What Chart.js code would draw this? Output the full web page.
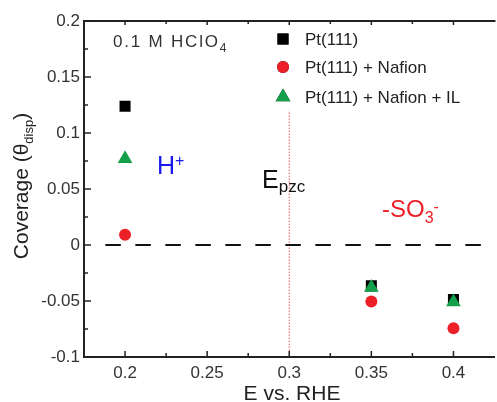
<!DOCTYPE html>
<html>
<head>
<meta charset="utf-8">
<script src="https://cdn.jsdelivr.net/npm/chart.js@4.4.0/dist/chart.umd.min.js"></script>
<style>
  html, body { margin: 0; padding: 0; background: #fff; overflow: hidden; }
  #wrap { width: 497px; height: 402px; overflow: hidden; }
</style>
</head>
<body>
<div id="wrap"><canvas id="chart" width="503" height="402"></canvas></div>
<script>
// potentials (V vs. RHE)
const potentials = [0.2, 0.35, 0.4];
// displaced coverage for each electrode
const pt111 = [0.1238, -0.0365, -0.0487];
const ptNafion = [0.0092, -0.0505, -0.0744];
const ptNafionIL = [0.077, -0.038, -0.051];

const seriesLabels = ['Pt(111)', 'Pt(111) + Nafion', 'Pt(111) + Nafion + IL'];

const xTickValues = [0.2, 0.25, 0.3, 0.35, 0.4];
const yTickValues = [0.2, 0.15, 0.1, 0.05, 0, -0.05, -0.1];
const xMinorValues = [0.225, 0.275, 0.325, 0.375];
const yMinorValues = [0.175, 0.125, 0.075, 0.025, -0.025, -0.075];

// reference lines: zero line and potential of zero charge
const zeroLineX = [0.188, 0.425];
const epzc = 0.3;
const epzcRange = [-0.1, 0.12];

const black = '#000000';
const red = '#ec2027';
const green = '#14a04b';
const axisColor = '#222222';
const font = '"Liberation Sans", Arial, sans-serif';

const toPoints = (ys) => ys.map((y, i) => ({ x: potentials[i], y: y }));

const fmt = (v) => String(Number(v.toFixed(3)));

// draws frame, ticks, legend and the text labels
const decorations = {
  id: 'decorations',
  afterDraw(chart) {
    const { ctx, chartArea } = chart;
    const xs = chart.scales.x;
    const ys = chart.scales.y;
    const { left, right, top, bottom } = chartArea;

    ctx.save();
    ctx.strokeStyle = axisColor;
    ctx.lineWidth = 2;
    // top frame
    ctx.beginPath();
    ctx.moveTo(left - 1, top);
    ctx.lineTo(right + 1, top);
    ctx.stroke();

    // ticks, pointing inwards
    ctx.lineWidth = 1.5;
    const tick = (x1, y1, x2, y2) => {
      ctx.beginPath();
      ctx.moveTo(x1, y1);
      ctx.lineTo(x2, y2);
      ctx.stroke();
    };
    xTickValues.forEach((v) => {
      const px = xs.getPixelForValue(v);
      tick(px, bottom, px, bottom - 6);
      tick(px, top, px, top + 4);
    });
    xMinorValues.forEach((v) => {
      const px = xs.getPixelForValue(v);
      tick(px, bottom, px, bottom - 4);
      tick(px, top, px, top + 3);
    });
    yTickValues.forEach((v) => {
      const py = ys.getPixelForValue(v);
      tick(left, py, left + 7, py);
    });
    yMinorValues.forEach((v) => {
      const py = ys.getPixelForValue(v);
      tick(left, py, left + 4, py);
    });

    // legend
    const datasets = chart.data.datasets;
    const legendY = [39, 67, 97];
    [0, 1, 2].forEach((di, row) => {
      const ds = datasets[di];
      Chart.helpers.drawPoint(ctx, {
        pointStyle: ds.pointStyle,
        radius: ds.pointRadius,
        borderWidth: 0
      }, 283, legendY[row]);
      ctx.fillStyle = ds.backgroundColor;
      ctx.fill();
      ctx.fillStyle = '#222';
      ctx.font = '17px ' + font;
      ctx.textAlign = 'left';
      ctx.textBaseline = 'middle';
      ctx.fillText(ds.label, 305, legendY[row] + 1);
    });

    ctx.textBaseline = 'alphabetic';
    ctx.textAlign = 'left';

    // electrolyte label
    ctx.fillStyle = '#333';
    ctx.font = '17px ' + font;
    ctx.letterSpacing = '1.8px';
    ctx.fillText('0.1 M HClO', 113, 47);
    let w = ctx.measureText('0.1 M HClO').width;
    ctx.font = '12px ' + font;
    ctx.fillText('4', 113 + w, 52);
    ctx.letterSpacing = '0px';

    // H+
    ctx.fillStyle = '#1a1aee';
    ctx.font = '25px ' + font;
    ctx.fillText('H', 157, 174);
    w = ctx.measureText('H').width;
    ctx.font = '16px ' + font;
    ctx.fillText('+', 157 + w, 166);

    // Epzc
    ctx.fillStyle = '#111';
    ctx.font = '25px ' + font;
    ctx.fillText('E', 262, 188);
    w = ctx.measureText('E').width;
    ctx.font = '17px ' + font;
    ctx.fillText('pzc', 262 + w, 192);

    // -SO3-
    ctx.fillStyle = red;
    ctx.font = '24px ' + font;
    ctx.fillText('-SO', 382, 217);
    w = ctx.measureText('-SO').width;
    ctx.font = '16px ' + font;
    ctx.fillText('3', 382 + w, 223);
    const w3 = ctx.measureText('3').width;
    ctx.fillText('-', 382 + w + w3, 212);

    // y axis title
    ctx.save();
    ctx.translate(28, 186);
    ctx.rotate(-Math.PI / 2);
    ctx.fillStyle = '#222';
    ctx.font = '21px ' + font;
    const main = 'Coverage (\u03b8';
    const wMain = ctx.measureText(main).width;
    const wClose = ctx.measureText(')').width;
    ctx.font = '13px ' + font;
    const wSub = ctx.measureText('disp').width;
    let x0 = -(wMain + wSub + wClose) / 2;
    ctx.font = '21px ' + font;
    ctx.fillText(main, x0, 0);
    ctx.font = '13px ' + font;
    ctx.fillText('disp', x0 + wMain, 5);
    ctx.font = '21px ' + font;
    ctx.fillText(')', x0 + wMain + wSub, 0);
    ctx.restore();

    // x axis title
    ctx.fillStyle = '#222';
    ctx.font = '21px ' + font;
    ctx.textAlign = 'center';
    ctx.fillText('E vs. RHE', 292, 400);

    ctx.restore();
  }
};

new Chart(document.getElementById('chart'), {
  type: 'scatter',
  data: {
    datasets: [
      {
        label: seriesLabels[0],
        data: toPoints(pt111),
        pointStyle: 'rect',
        pointRadius: 7.8,
        backgroundColor: black,
        borderWidth: 0,
        order: 2
      },
      {
        label: seriesLabels[1],
        data: toPoints(ptNafion),
        pointStyle: 'circle',
        pointRadius: 6,
        backgroundColor: red,
        borderWidth: 0,
        order: 1
      },
      {
        label: seriesLabels[2],
        data: toPoints(ptNafionIL),
        pointStyle: 'triangle',
        pointRadius: 8.5,
        backgroundColor: green,
        borderWidth: 0,
        order: 0
      },
      {
        label: 'zero',
        data: zeroLineX.map((x) => ({ x: x, y: 0 })),
        showLine: true,
        pointRadius: 0,
        borderColor: '#111',
        borderWidth: 2,
        borderDash: [15.5, 14.5],
        order: 4
      },
      {
        label: 'Epzc',
        data: epzcRange.map((y) => ({ x: epzc, y: y })),
        showLine: true,
        pointRadius: 0,
        borderColor: '#e8585c',
        borderWidth: 1,
        borderDash: [1.5, 1.5],
        order: 5
      }
    ]
  },
  options: {
    responsive: false,
    animation: false,
    layout: { padding: { top: 21, left: 0, right: 3, bottom: 0 } },
    plugins: {
      legend: { display: false },
      tooltip: { enabled: false }
    },
    scales: {
      x: {
        type: 'linear',
        min: 0.175,
        max: 0.425,
        afterFit: (scale) => { scale.height = 45; },
        afterBuildTicks: (scale) => {
          scale.ticks = xTickValues.map((v) => ({ value: v }));
        },
        grid: { display: false, drawTicks: false },
        border: { display: true, color: axisColor, width: 2 },
        ticks: {
          color: '#333',
          padding: 6,
          font: { family: font, size: 17 },
          callback: (v) => fmt(v),
          maxRotation: 0,
          autoSkip: false
        }
      },
      y: {
        type: 'linear',
        min: -0.1,
        max: 0.2,
        afterFit: (scale) => { scale.width = 84; },
        afterBuildTicks: (scale) => {
          scale.ticks = yTickValues.map((v) => ({ value: v }));
        },
        grid: { display: false, drawTicks: false },
        border: { display: true, color: axisColor, width: 2 },
        ticks: {
          color: '#333',
          padding: 4,
          font: { family: font, size: 17 },
          callback: (v) => fmt(v),
          autoSkip: false
        }
      }
    }
  },
  plugins: [decorations]
});
</script>
</body>
</html>
